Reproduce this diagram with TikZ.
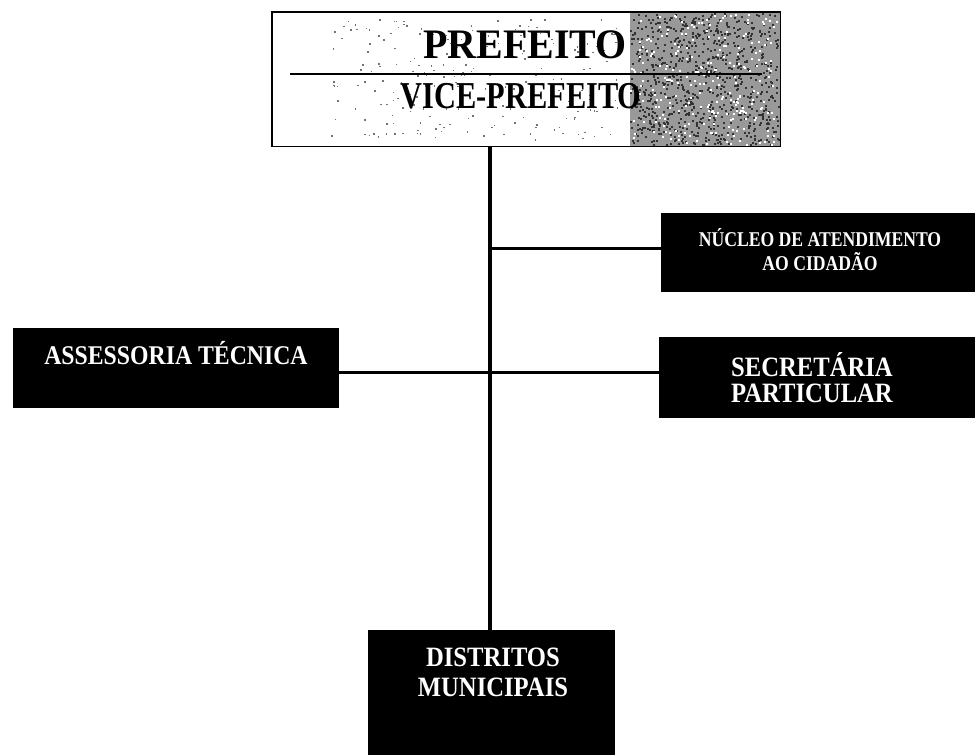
\documentclass[tikz,border=0pt]{standalone}
\usepackage{fontspec}
\setmainfont{Liberation Serif}
\newfontfamily\condA[FakeStretch=0.88]{Liberation Serif}
\newfontfamily\condB[FakeStretch=0.80]{Liberation Serif}
\newfontfamily\condC[FakeStretch=0.95]{Liberation Serif}
\newfontfamily\condD[FakeStretch=0.84]{Liberation Serif}
\begin{document}
\begin{tikzpicture}[x=1pt,y=-1pt,
  darkbox/.style={fill=black, inner sep=0pt, anchor=north west},
  wtext/.style={text=white, align=center, inner sep=0pt},
  conn/.style={line width=3pt}]
\useasboundingbox (0,0) rectangle (975,755);
\fill[white] (0,0) rectangle (975,755);

% top box
\node[fill=white, inner sep=0pt, anchor=north west, minimum width=508pt, minimum height=134pt] (chefe) at (272,12) {};
\fill[black!40] (630,12) rectangle (780,146);
\pgfmathsetseed{7}
\foreach \i in {1,...,800}{
  \pgfmathsetmacro{\rx}{630+148*rnd}
  \pgfmathsetmacro{\ry}{13+131*rnd}
  \fill[black!80] (\rx,\ry) rectangle ++(2,2);
}
\foreach \i in {1,...,250}{
  \pgfmathsetmacro{\rx}{630+148*rnd}
  \pgfmathsetmacro{\ry}{13+131*rnd}
  \fill[white] (\rx,\ry) rectangle ++(2,2);
}
\foreach \i in {1,...,220}{
  \pgfmathsetmacro{\rx}{330+290*rnd}
  \pgfmathsetmacro{\ry}{18+122*rnd}
  \fill[black!55] (\rx,\ry) rectangle ++(1.5,1.5);
}
\draw[line width=1.6pt] (chefe.north west) rectangle (chefe.south east);
\coordinate (divL) at (290,74);
\coordinate (divR) at (762,74);
\draw[line width=1.2pt] (divL) -- (divR);
\node[font=\condC\bfseries\fontsize{42}{46}\selectfont, inner sep=0pt] (pref) at (525,45) {PREFEITO};
\node[font=\condB\bfseries\fontsize{38}{42}\selectfont, inner sep=0pt] (vice) at (521,96) {VICE-PREFEITO};

% dark boxes
\node[darkbox, minimum width=314pt, minimum height=79pt] (nucleo) at (661,213) {};
\node[darkbox, minimum width=316pt, minimum height=81pt] (secret) at (659,337) {};
\node[darkbox, minimum width=326pt, minimum height=80pt] (assess) at (13,328) {};
\node[darkbox, minimum width=247pt, minimum height=130pt] (distr) at (368,630) {};

% texts
\node[wtext, font=\condD\bfseries\fontsize{21}{24}\selectfont] (tnucleo) at (820,250) {NÚCLEO DE ATENDIMENTO\\AO CIDADÃO};
\node[wtext, font=\condA\bfseries\fontsize{28}{26}\selectfont] (tsecret) at (812,378) {SECRETÁRIA\\PARTICULAR};
\node[wtext, font=\condA\bfseries\fontsize{27}{28}\selectfont] (tassess) at (176,353) {ASSESSORIA TÉCNICA};
\node[wtext, font=\condA\bfseries\fontsize{28}{30}\selectfont] (tdistr) at (493,672) {DISTRITOS\\MUNICIPAIS};

% connectors
\coordinate (vtop) at (490,146);
\coordinate (jn) at (490,248);
\draw[line width=3.5pt] (vtop) -- (vtop |- distr.north);
\draw[conn] (jn) -- (jn -| nucleo.west);
\draw[conn] (assess.east |- 0,372) -- (secret.west |- 0,372);
\end{tikzpicture}
\end{document}
